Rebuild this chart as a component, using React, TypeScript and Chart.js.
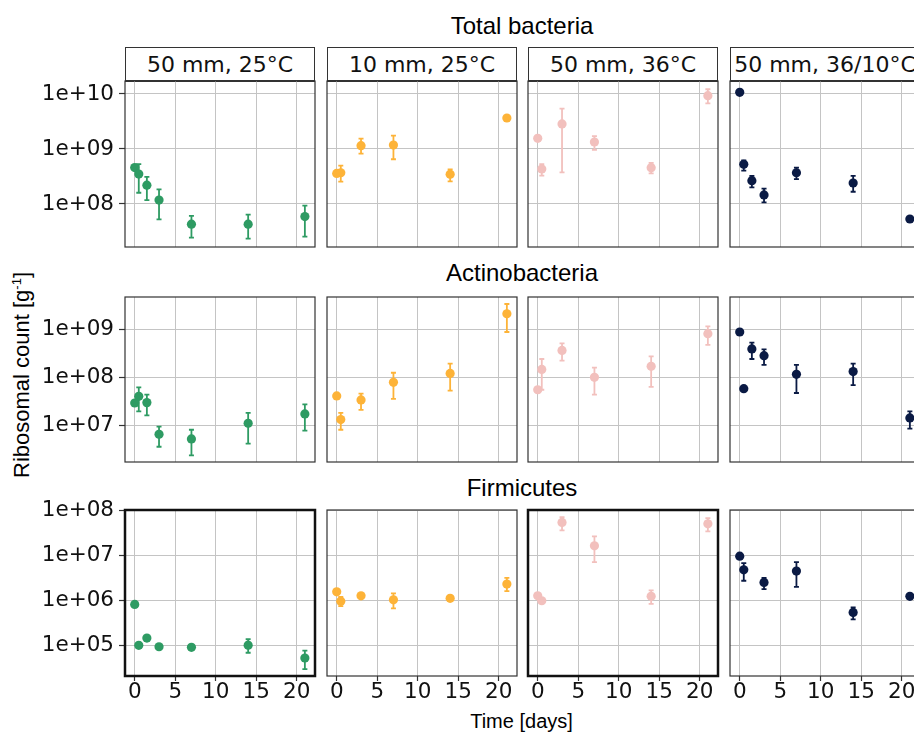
import React, { useEffect, useRef } from 'react';
import { Chart, registerables } from 'chart.js';

Chart.register(...registerables);

// ---------- data ----------
const rowTitles = ['Total bacteria', 'Actinobacteria', 'Firmicutes'];
const stripLabels = ['50 mm, 25°C', '10 mm, 25°C', '50 mm, 36°C', '50 mm, 36/10°C'];
const seriesColors = ['#2E9B63', '#FDB338', '#F2C0BD', '#0A1A44'];

const daysA = [0, 0.5, 1.5, 3, 7, 14, 21];
const daysB = [0, 0.5, 3, 7, 14, 21];

const xTicks = [0, 5, 10, 15, 20];
const xTickLabels = ['0', '5', '10', '15', '20'];

const yTicksTotal = [1e8, 1e9, 1e10];
const yLabelsTotal = ['1e+08', '1e+09', '1e+10'];
const yTicksActino = [1e7, 1e8, 1e9];
const yLabelsActino = ['1e+07', '1e+08', '1e+09'];
const yTicksFirm = [1e5, 1e6, 1e7, 1e8];
const yLabelsFirm = ['1e+05', '1e+06', '1e+07', '1e+08'];

// Total bacteria
const total1 = [4.6e8, 3.5e8, 2.2e8, 1.18e8, 4.3e7, 4.3e7, 5.9e7];
const total1Lo = [null, 1.6e8, 1.18e8, 5.25e7, 2.44e7, 2.35e7, 2.54e7];
const total1Hi = [null, 5.3e8, 3.1e8, 1.85e8, 6.1e7, 6.4e7, 9.3e7];
const total2 = [3.6e8, 3.7e8, 1.15e9, 1.18e9, 3.47e8, 3.66e9];
const total2Lo = [null, 2.54e8, 8.2e8, 6.5e8, 2.57e8, null];
const total2Hi = [null, 4.97e8, 1.54e9, 1.75e9, 4.27e8, null];
const total3 = [1.56e9, 4.33e8, 2.85e9, 1.34e9, 4.57e8, 9.3e9];
const total3Lo = [null, 3.27e8, 3.77e8, 9.6e8, 3.6e8, 6.77e9];
const total3Hi = [null, 5.3e8, 5.4e9, 1.72e9, 5.6e8, 1.22e10];
const total4 = [1.07e10, 5.27e8, 2.65e8, 1.46e8, 3.7e8, 2.41e8, 5.33e7];
const total4Lo = [null, 4.03e8, 2.0e8, 1.07e8, 2.82e8, 1.67e8, null];
const total4Hi = [null, 6.2e8, 3.24e8, 1.9e8, 4.57e8, 3.24e8, null];

// Actinobacteria
const actino1 = [2.9e7, 4.0e7, 2.95e7, 6.4e6, 5.1e6, 1.09e7, 1.71e7];
const actino1Lo = [null, 1.94e7, 1.6e7, 3.5e6, 2.3e6, 4.07e6, 7.6e6];
const actino1Hi = [null, 6.17e7, 4.33e7, 9.25e6, 7.95e6, 1.8e7, 2.7e7];
const actino2 = [4.07e7, 1.3e7, 3.36e7, 7.85e7, 1.21e8, 2.16e9];
const actino2Lo = [null, 7.95e6, 2.07e7, 3.52e7, 5.26e7, 8.95e8];
const actino2Hi = [null, 1.8e7, 4.55e7, 1.25e8, 1.94e8, 3.46e9];
const actino3 = [5.5e7, 1.47e8, 3.68e8, 1.0e8, 1.7e8, 8.25e8];
const actino3Lo = [null, 5.5e7, 2.24e8, 4.33e7, 6.3e7, 4.8e8];
const actino3Hi = [null, 2.43e8, 5.16e8, 1.6e8, 2.75e8, 1.17e9];
const actino4 = [8.95e8, 5.8e7, 3.94e8, 2.85e8, 1.16e8, 1.32e8, 1.41e7];
const actino4Lo = [null, null, 2.43e8, 1.82e8, 4.7e7, 6.9e7, 8.4e6];
const actino4Hi = [null, null, 5.33e8, 3.86e8, 1.82e8, 1.94e8, 1.94e7];

// Firmicutes
const firm1 = [8.2e5, 1.02e5, 1.48e5, 9.5e4, 9.2e4, 1.03e5, 5.35e4];
const firm1Lo = [null, null, null, null, null, 7.0e4, 3.05e4];
const firm1Hi = [null, null, null, null, null, 1.4e5, 7.8e4];
const firm2 = [1.56e6, 9.7e5, 1.27e6, 1.04e6, 1.12e6, 2.31e6];
const firm2Lo = [null, 7.55e5, null, 6.7e5, null, 1.62e6];
const firm2Hi = [null, 1.21e6, null, 1.44e6, null, 3.18e6];
const firm3 = [1.27e6, 9.9e5, 5.35e7, 1.63e7, 1.24e6, 4.98e7];
const firm3Lo = [null, null, 3.56e7, 7.1e6, 8.4e5, 3.38e7];
const firm3Hi = [null, null, 7.0e7, 2.62e7, 1.68e6, 6.65e7];
const firm4 = [9.6e6, 4.79e6, 2.52e6, 4.48e6, 5.47e5, 1.24e6];
const firm4Lo = [null, 2.74e6, 1.79e6, 2.01e6, 3.84e5, null];
const firm4Hi = [null, 6.73e6, 3.18e6, 7.1e6, 7.06e5, null];

const panelDays = [daysA, daysB, daysB, daysA];
const firm4Days = [0, 0.5, 3, 7, 14, 21];

const rowData = [
  [[total1, total1Lo, total1Hi], [total2, total2Lo, total2Hi], [total3, total3Lo, total3Hi], [total4, total4Lo, total4Hi]],
  [[actino1, actino1Lo, actino1Hi], [actino2, actino2Lo, actino2Hi], [actino3, actino3Lo, actino3Hi], [actino4, actino4Lo, actino4Hi]],
  [[firm1, firm1Lo, firm1Hi], [firm2, firm2Lo, firm2Hi], [firm3, firm3Lo, firm3Hi], [firm4, firm4Lo, firm4Hi]],
];
const rowYTicks = [yTicksTotal, yTicksActino, yTicksFirm];
const rowYLabels = [yLabelsTotal, yLabelsActino, yLabelsFirm];
const rowYMin = [Math.pow(10, 7.218), Math.pow(10, 6.224), Math.pow(10, 4.33)];
const rowYMax = [Math.pow(10, 10.236), Math.pow(10, 9.686), Math.pow(10, 8.004)];
const X_MIN = -1.2;
const X_MAX = 22.25;

// ---------- layout ----------
const PANEL_LEFT = [125, 327, 528, 730];
const PANEL_W = 190;
const ROW_TOP = [81, 297, 510];
const ROW_H = [166, 165, 166];
const PAD = 20;
const AXIS_W = 95;
const AXIS_H = 30;
const GRID = '#c4c4c4';
const FRAME = '#333333';
const TICK_FONT = { family: 'DejaVu Sans', size: 21.5, lineHeight: 1.1 };
const TITLE_FONT = '"Liberation Sans", Arial, sans-serif';

function Panel({ row, col }: { row: number; col: number }) {
  const ref = useRef<HTMLCanvasElement>(null);
  const isLeft = col === 0;
  const isBottom = row === 2;
  const left = PANEL_LEFT[col] - PAD - (isLeft ? AXIS_W : 0);
  const top = ROW_TOP[row] - PAD;
  const width = PANEL_W + 2 * PAD + (isLeft ? AXIS_W : 0);
  const height = ROW_H[row] + 2 * PAD + (isBottom ? AXIS_H : 0);

  useEffect(() => {
    const [vals, lo, hi] = rowData[row][col] as any;
    const days = row === 2 && col === 3 ? firm4Days : panelDays[col];
    const color = seriesColors[col];
    const thick = row === 2 && (col === 0 || col === 2);
    const yTicks = rowYTicks[row];
    const yLabels = rowYLabels[row];

    const errorBars = {
      id: 'errorBars',
      beforeDatasetsDraw(chart: any) {
        const { ctx } = chart;
        const xs = chart.scales.x;
        const ys = chart.scales.y;
        ctx.save();
        ctx.strokeStyle = color;
        ctx.lineWidth = 1.8;
        for (let i = 0; i < days.length; i++) {
          if (lo[i] == null || hi[i] == null) continue;
          const px = xs.getPixelForValue(days[i]);
          const p1 = ys.getPixelForValue(lo[i]);
          const p2 = ys.getPixelForValue(hi[i]);
          ctx.beginPath();
          ctx.moveTo(px, p1);
          ctx.lineTo(px, p2);
          ctx.moveTo(px - 2.5, p1);
          ctx.lineTo(px + 2.5, p1);
          ctx.moveTo(px - 2.5, p2);
          ctx.lineTo(px + 2.5, p2);
          ctx.stroke();
        }
        ctx.restore();
      },
    };
    const frame = {
      id: 'frame',
      afterDatasetsDraw(chart: any) {
        const { ctx, chartArea: a } = chart;
        ctx.save();
        ctx.strokeStyle = thick ? '#111111' : FRAME;
        ctx.lineWidth = thick ? 2.5 : 1.2;
        ctx.strokeRect(a.left, a.top, a.right - a.left, a.bottom - a.top);
        ctx.restore();
      },
    };

    const chart = new Chart(ref.current as HTMLCanvasElement, {
      type: 'scatter',
      data: {
        datasets: [
          {
            data: days.map((d: number, i: number) => ({ x: d, y: vals[i] })),
            backgroundColor: color,
            borderColor: color,
            pointRadius: 4.6,
            pointBorderWidth: 0,
            showLine: false,
          },
        ],
      },
      options: {
        animation: false,
        responsive: false,
        maintainAspectRatio: false,
        devicePixelRatio: 1,
        layout: { padding: PAD },
        plugins: { legend: { display: false }, tooltip: { enabled: false } },
        scales: {
          x: {
            type: 'linear',
            position: 'bottom',
            min: X_MIN,
            max: X_MAX,
            afterBuildTicks: (s: any) => {
              s.ticks = xTicks.map((v) => ({ value: v }));
            },
            afterFit: (s: any) => {
              s.height = isBottom ? AXIS_H : 0;
            },
            grid: { color: GRID, lineWidth: 1, drawTicks: isBottom, tickLength: 5, tickColor: FRAME, tickWidth: 1.2 },
            border: { display: false },
            ticks: {
              display: isBottom,
              autoSkip: false,
              maxRotation: 0,
              padding: 0,
              color: '#111111',
              font: TICK_FONT,
              callback: (v: any) => xTickLabels[xTicks.indexOf(Number(v))],
            },
          },
          y: {
            type: 'logarithmic',
            position: 'left',
            min: rowYMin[row],
            max: rowYMax[row],
            afterBuildTicks: (s: any) => {
              s.ticks = yTicks.map((v) => ({ value: v }));
            },
            afterFit: (s: any) => {
              s.width = isLeft ? AXIS_W : 0;
            },
            grid: { color: GRID, lineWidth: 1, drawTicks: isLeft, tickLength: 6, tickColor: FRAME, tickWidth: 1.2 },
            border: { display: false },
            ticks: {
              display: isLeft,
              autoSkip: false,
              padding: 5,
              color: '#111111',
              font: TICK_FONT,
              callback: (_v: any, i: number) => yLabels[i],
            },
          },
        },
      } as any,
      plugins: [errorBars, frame],
    });
    return () => chart.destroy();
  }, [row, col]);

  return (
    <canvas
      ref={ref}
      width={width}
      height={height}
      style={{ position: 'absolute', left, top, width: width + 'px', height: height + 'px' }}
    />
  );
}

function Text({ x, y, size, family, children, rotate }: any) {
  return (
    <div
      style={{
        position: 'absolute',
        left: x,
        top: y,
        fontFamily: family,
        fontSize: size + 'px',
        lineHeight: size + 'px',
        whiteSpace: 'nowrap',
        color: '#000',
        transform: `translate(-50%, -50%)${rotate ? ' rotate(-90deg)' : ''}`,
      }}
    >
      {children}
    </div>
  );
}

export default function App() {
  const titleY = [25.5, 273, 488];
  const panels: any[] = [];
  for (let r = 0; r < 3; r++) for (let c = 0; c < 4; c++) panels.push(<Panel key={`${r}-${c}`} row={r} col={c} />);
  return (
    <div style={{ position: 'fixed', left: 0, top: 0, width: 914, height: 733, overflow: 'hidden', background: '#fff' }}>
      {stripLabels.map((s, c) => (
        <div
          key={s}
          style={{
            position: 'absolute',
            left: PANEL_LEFT[c],
            top: 47,
            width: PANEL_W,
            height: 35,
            boxSizing: 'border-box',
            border: `1.2px solid ${FRAME}`,
            borderBottomWidth: 2,
            fontFamily: '"DejaVu Sans", sans-serif',
            fontSize: '22px',
            lineHeight: '33px',
            textAlign: 'center',
            whiteSpace: 'nowrap',
            overflow: 'hidden',
            color: '#111',
          }}
        >
          {s}
        </div>
      ))}
      {rowTitles.map((t, r) => (
        <Text key={t} x={522} y={titleY[r]} size={24} family={TITLE_FONT}>
          {t}
        </Text>
      ))}
      <Text x={521.5} y={720.5} size={20} family={TITLE_FONT}>
        Time [days]
      </Text>
      <Text x={21.5} y={375} size={22} family={TITLE_FONT} rotate>
        Ribosomal count [g<span style={{ fontSize: '13px', verticalAlign: '8px', lineHeight: 0 }}>-1</span>]
      </Text>
      {panels}
    </div>
  );
}
